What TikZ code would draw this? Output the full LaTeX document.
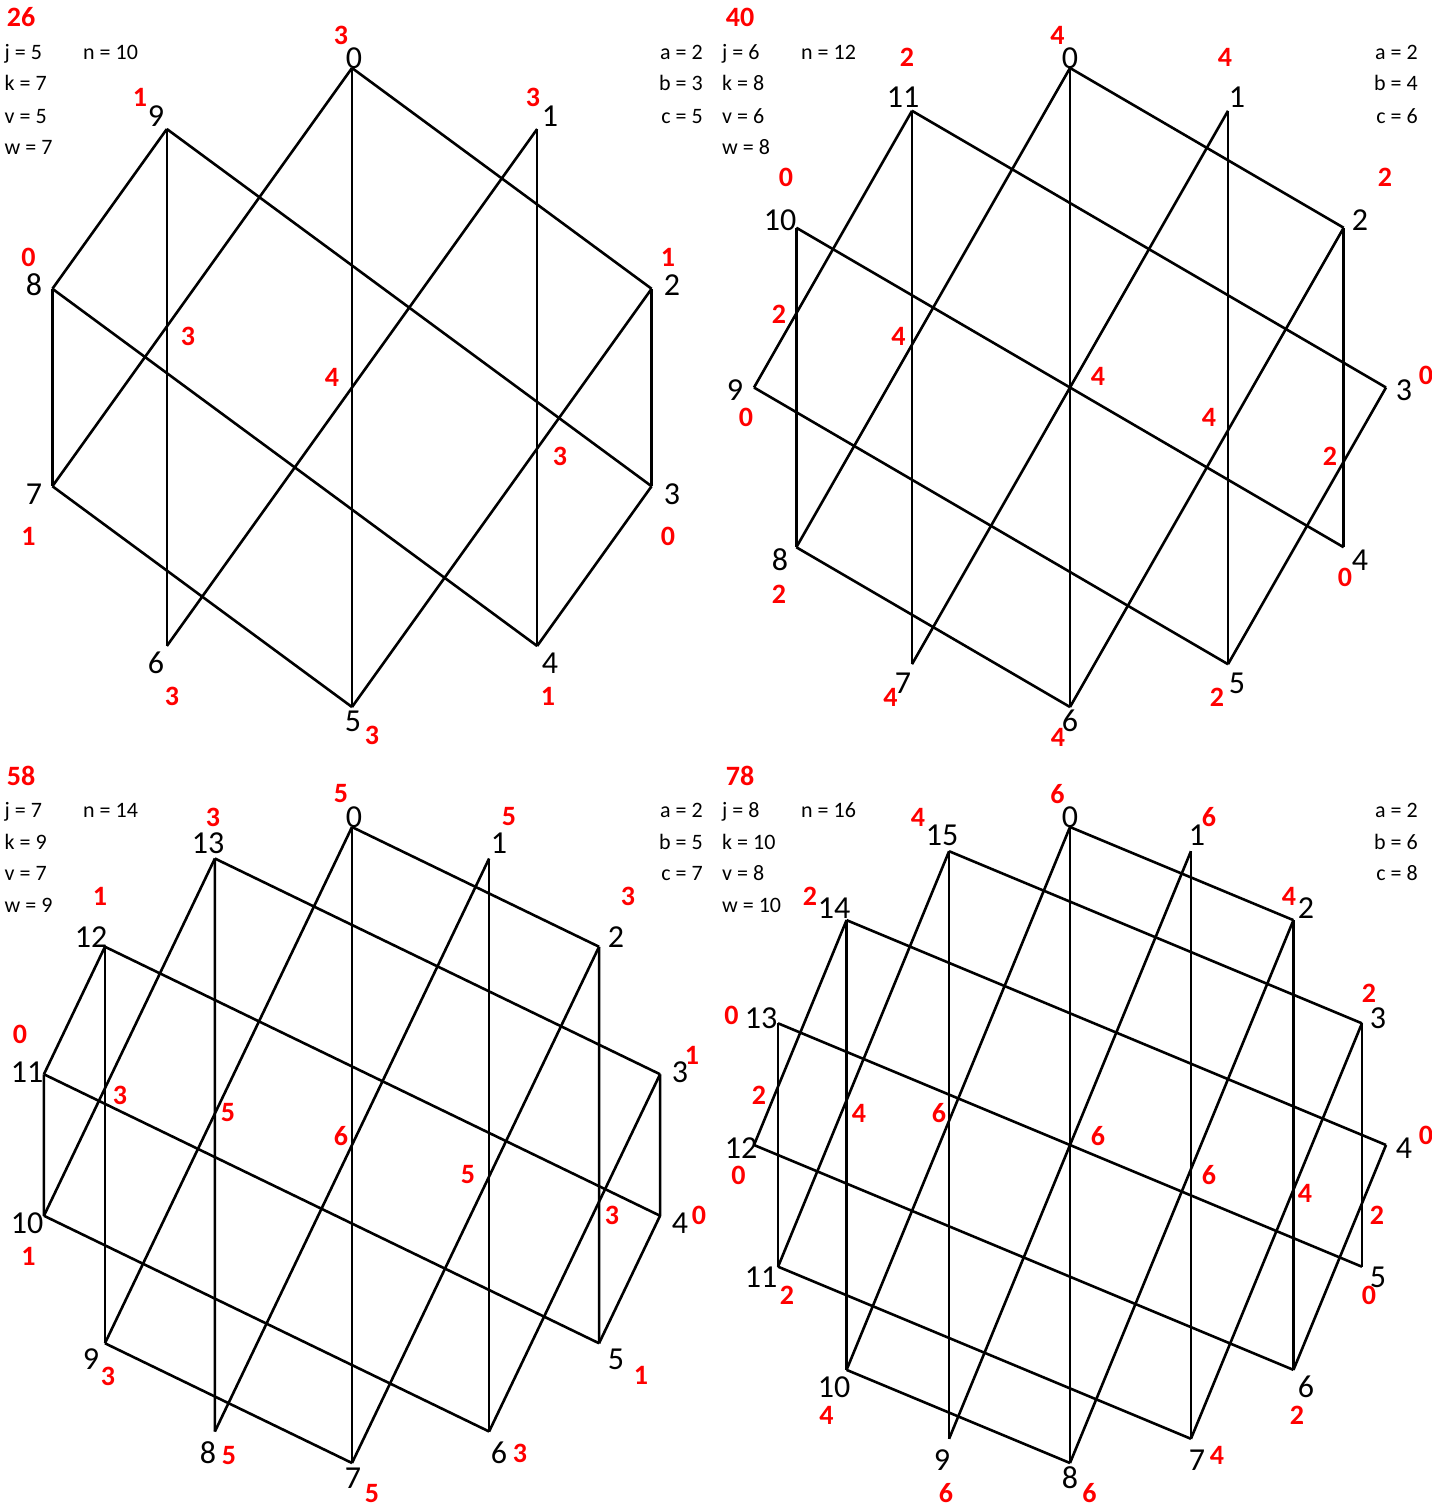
\documentclass[tikz,border=0pt]{standalone}
\usepackage{fontspec}
\setmainfont{Carlito}
\begin{document}
\begin{tikzpicture}[x=1pt,y=-1pt,
  edge/.style={line width=2.6pt,black},
  vl/.style={inner sep=0pt,font=\fontsize{32}{36}\selectfont},
  rl/.style={inner sep=0pt,text=red,font=\fontsize{28}{32}\selectfont\bfseries},
  stl/.style={inner sep=0pt,anchor=base west,font=\fontsize{22}{26}\selectfont},
  str/.style={inner sep=0pt,anchor=base east,font=\fontsize{22}{26}\selectfont}]
\useasboundingbox (0,0) rectangle (1448,1505);
% ---------- vertex coordinates ----------
\foreach \i in {0,...,9}  \coordinate (A\i) at ({352+315*sin(36*\i)},{387.5-319.5*cos(36*\i)});
\foreach \i in {0,...,11} \coordinate (B\i) at ({1070+316*sin(30*\i)},{387.5-319.5*cos(30*\i)});
\foreach \i in {0,...,13} \coordinate (C\i) at ({352+316*sin(360/14*\i)},{1145-318*cos(360/14*\i)});
\foreach \i in {0,...,15} \coordinate (D\i) at ({1070+316*sin(22.5*\i)},{1145-318*cos(22.5*\i)});
% ---------- edges ----------
\foreach \p/\q in {0/5,9/6,1/4,8/7,2/3, 0/2,9/3,8/4,7/5, 0/7,9/8,1/6,2/5,3/4}
  \draw[edge] (A\p) -- (A\q);
\foreach \p/\q in {0/6,1/5,2/4,7/11,8/10, 0/2,3/11,4/10,5/9,6/8, 0/8,1/7,2/6,3/5,9/11}
  \draw[edge] (B\p) -- (B\q);
\foreach \p/\q in {0/7,1/6,2/5,3/4,8/13,9/12,10/11, 0/2,3/13,4/12,5/11,6/10,7/9, 0/9,1/8,2/7,3/6,4/5,10/13,11/12}
  \draw[edge] (C\p) -- (C\q);
\foreach \p/\q in {0/8,1/7,2/6,3/5,9/15,10/14,11/13, 0/2,3/15,4/14,5/13,6/12,7/11,8/10, 0/10,1/9,2/8,3/7,4/6,11/15,12/14}
  \draw[edge] (D\p) -- (D\q);
% ================= panel A =================
\node[rl] (Atot) at (21,17) {26};
\node[stl] (Aj) at (4.5,59) {j = 5};
\node[stl] (An) at (83,59) {n = 10};
\node[stl] (Ak) at (4.5,90) {k = 7};
\node[stl] (Av) at (4.5,123) {v = 5};
\node[stl] (Aw) at (4.5,154) {w = 7};
\node[str] (Aa) at (703,59) {a = 2};
\node[str] (Ab) at (703,90) {b = 3};
\node[str] (Ac) at (703,123) {c = 5};
\node[vl] (Al0) at (354,58) {0};
\node[vl] (Al1) at (550,116) {1};
\node[vl] (Al2) at (672,285) {2};
\node[vl] (Al3) at (672,494) {3};
\node[vl] (Al4) at (550,663) {4};
\node[vl] (Al5) at (353,721) {5};
\node[vl] (Al6) at (156,663) {6};
\node[vl] (Al7) at (34,494) {7};
\node[vl] (Al8) at (34,285) {8};
\node[vl] (Al9) at (156,116) {9};
\node[rl] (Ar0) at (341,35) {3};
\node[rl] (Ar1) at (533,97) {3};
\node[rl] (Ar9) at (140,97) {1};
\node[rl] (Ar8) at (28.5,257) {0};
\node[rl] (Ar2) at (668,257) {1};
\node[rl] (Ari1) at (188,336) {3};
\node[rl] (Ari2) at (332,377) {4};
\node[rl] (Ari3) at (560,456) {3};
\node[rl] (Ar7) at (28.5,536) {1};
\node[rl] (Ar3) at (668,536) {0};
\node[rl] (Ar6) at (172,696) {3};
\node[rl] (Ar4) at (548,696) {1};
\node[rl] (Ar5) at (372,735) {3};
% ================= panel B =================
\node[rl] (Btot) at (740,17) {40};
\node[stl] (Bj) at (722,59) {j = 6};
\node[stl] (Bn) at (801,59) {n = 12};
\node[stl] (Bk) at (722,90) {k = 8};
\node[stl] (Bv) at (722,123) {v = 6};
\node[stl] (Bw) at (722,154) {w = 8};
\node[str] (Ba) at (1418,59) {a = 2};
\node[str] (Bb) at (1418,90) {b = 4};
\node[str] (Bc) at (1418,123) {c = 6};
\node[vl] (Bl0) at (1070,58) {0};
\node[vl] (Bl1) at (1237,97) {1};
\node[vl] (Bl2) at (1360,220) {2};
\node[vl] (Bl3) at (1404,390) {3};
\node[vl] (Bl4) at (1360,560) {4};
\node[vl] (Bl5) at (1237,683) {5};
\node[vl] (Bl6) at (1070,721) {6};
\node[vl] (Bl7) at (903,683) {7};
\node[vl] (Bl8) at (780,560) {8};
\node[vl] (Bl9) at (735,390) {9};
\node[vl] (Bl10) at (780,220) {10};
\node[vl] (Bl11) at (903,97) {11};
\node[rl] (Br0) at (1057.5,35) {4};
\node[rl] (Br11) at (907,57) {2};
\node[rl] (Br1) at (1225,57) {4};
\node[rl] (Br10) at (786,177) {0};
\node[rl] (Br2) at (1385,177) {2};
\node[rl] (Bri1) at (779,314) {2};
\node[rl] (Bri2) at (898.5,336) {4};
\node[rl] (Bri3) at (1098,376) {4};
\begin{scope}
  \clip (1410,355) rectangle (1431,395);
  \node[rl] (Br3) at (1426,375) {0};
\end{scope}
\node[rl] (Br9) at (746,417) {0};
\node[rl] (Bri4) at (1209,417) {4};
\node[rl] (Bri5) at (1330,456) {2};
\node[rl] (Br4) at (1345,577) {0};
\node[rl] (Br8) at (779,594) {2};
\node[rl] (Br7) at (890.5,697) {4};
\node[rl] (Br5) at (1217,697) {2};
\node[rl] (Br6) at (1058,737) {4};
% ================= panel C =================
\node[rl] (Ctot) at (21,776) {58};
\node[stl] (Cj) at (4.5,817) {j = 7};
\node[stl] (Cn) at (83,817) {n = 14};
\node[stl] (Ck) at (4.5,849) {k = 9};
\node[stl] (Cv) at (4.5,880) {v = 7};
\node[stl] (Cw) at (4.5,912) {w = 9};
\node[str] (Ca) at (703,817) {a = 2};
\node[str] (Cb) at (703,849) {b = 5};
\node[str] (Cc) at (703,880) {c = 7};
\node[vl] (Cl0) at (354,817) {0};
\node[vl] (Cl1) at (499,843) {1};
\node[vl] (Cl2) at (616,937) {2};
\node[vl] (Cl3) at (680,1072) {3};
\node[vl] (Cl4) at (680,1223) {4};
\node[vl] (Cl5) at (616,1359) {5};
\node[vl] (Cl6) at (499,1453) {6};
\node[vl] (Cl7) at (353,1478) {7};
\node[vl] (Cl8) at (208,1453) {8};
\node[vl] (Cl9) at (91,1359) {9};
\node[vl] (Cl10) at (27,1223) {10};
\node[vl] (Cl11) at (27,1072) {11};
\node[vl] (Cl12) at (91,937) {12};
\node[vl] (Cl13) at (208,843) {13};
\node[rl] (Cr0) at (341,794) {5};
\node[rl] (Cr13) at (213,817) {3};
\node[rl] (Cr1) at (509,817) {5};
\node[rl] (Cr12) at (100,896) {1};
\node[rl] (Cr2) at (628,896) {3};
\node[rl] (Cr11) at (20,1034) {0};
\node[rl] (Cr3) at (692,1055) {1};
\node[rl] (Cri1) at (120,1095) {3};
\node[rl] (Cri2) at (228,1113) {5};
\node[rl] (Cri3) at (341,1136) {6};
\node[rl] (Cri4) at (468,1175) {5};
\node[rl] (Cri5) at (612,1215) {3};
\node[rl] (Cr4) at (699,1215) {0};
\node[rl] (Cr10) at (28.5,1256) {1};
\node[rl] (Cr9) at (108,1376) {3};
\node[rl] (Cr5) at (641,1375) {1};
\node[rl] (Cr8) at (229,1455) {5};
\node[rl] (Cr6) at (520,1453) {3};
\node[rl] (Cr7) at (372,1493) {5};
% ================= panel D =================
\node[rl] (Dtot) at (740,776) {78};
\node[stl] (Dj) at (722,817) {j = 8};
\node[stl] (Dn) at (801,817) {n = 16};
\node[stl] (Dk) at (722,849) {k = 10};
\node[stl] (Dv) at (722,880) {v = 8};
\node[stl] (Dw) at (722,912) {w = 10};
\node[str] (Da) at (1418,817) {a = 2};
\node[str] (Db) at (1418,849) {b = 6};
\node[str] (Dc) at (1418,880) {c = 8};
\node[vl] (Dl0) at (1070,817) {0};
\node[vl] (Dl1) at (1197,835) {1};
\node[vl] (Dl2) at (1306,908) {2};
\node[vl] (Dl3) at (1378,1018) {3};
\node[vl] (Dl4) at (1404,1148) {4};
\node[vl] (Dl5) at (1378,1277) {5};
\node[vl] (Dl6) at (1306,1387) {6};
\node[vl] (Dl7) at (1197,1460) {7};
\node[vl] (Dl8) at (1070,1478) {8};
\node[vl] (Dl9) at (942,1460) {9};
\node[vl] (Dl10) at (834,1387) {10};
\node[vl] (Dl11) at (761,1277) {11};
\node[vl] (Dl12) at (741,1148) {12};
\node[vl] (Dl13) at (761,1018) {13};
\node[vl] (Dl14) at (834,908) {14};
\node[vl] (Dl15) at (942,835) {15};
\node[rl] (Dr0) at (1057.5,794) {6};
\node[rl] (Dr15) at (918,817) {4};
\node[rl] (Dr1) at (1209,817) {6};
\node[rl] (Dr14) at (810,896) {2};
\node[rl] (Dr2) at (1289,896) {4};
\node[rl] (Dr13) at (731.5,1015) {0};
\node[rl] (Dr3) at (1369,993) {2};
\node[rl] (Dri1) at (759,1095) {2};
\node[rl] (Dri2) at (859,1113) {4};
\node[rl] (Dri3) at (939,1113) {6};
\node[rl] (Dri4) at (1098,1136) {6};
\begin{scope}
  \clip (1410,1115) rectangle (1431,1155);
  \node[rl] (Dr4) at (1426,1135) {0};
\end{scope}
\node[rl] (Dr12) at (738.5,1175) {0};
\node[rl] (Dri5) at (1209,1175) {6};
\node[rl] (Dri6) at (1305,1193) {4};
\node[rl] (Dri7) at (1377,1215) {2};
\node[rl] (Dr11) at (787,1295) {2};
\node[rl] (Dr5) at (1369,1295) {0};
\node[rl] (Dr10) at (826.5,1415) {4};
\node[rl] (Dr6) at (1297,1415) {2};
\node[rl] (Dr7) at (1217,1455) {4};
\node[rl] (Dr9) at (946,1493) {6};
\node[rl] (Dr8) at (1089.5,1493) {6};
\end{tikzpicture}
\end{document}
